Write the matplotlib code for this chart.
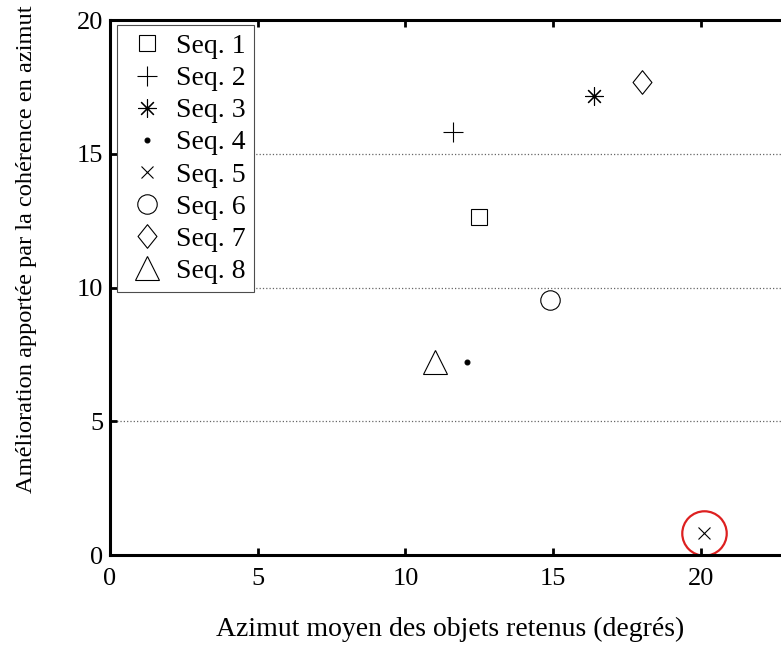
import matplotlib.pyplot as plt
from matplotlib.path import Path

plt.rcParams['font.family'] = ['Liberation Serif', 'DejaVu Serif']

# data
labels = ['Seq. 1', 'Seq. 2', 'Seq. 3', 'Seq. 4', 'Seq. 5', 'Seq. 6', 'Seq. 7', 'Seq. 8']
azimut = [12.5, 11.6, 16.4, 12.1, 20.1, 14.9, 18.0, 11.0]
gain = [12.65, 15.8, 17.15, 7.2, 0.82, 9.55, 17.7, 7.2]

# marker styles (MATLAB-like)
diamond = Path([(0, 1), (0.8, 0), (0, -1), (-0.8, 0), (0, 1)],
               [Path.MOVETO, Path.LINETO, Path.LINETO, Path.LINETO, Path.CLOSEPOLY])
markers = ['s', '+', (8, 2, 0), 'o', 'x', 'o', diamond, '^']
sizes = [11.5, 14, 13, 3.5, 9, 14, 17, 17]

fig = plt.figure(figsize=(7.81, 6.48), dpi=100)
ax = fig.add_axes([0.1408, 0.1435, 0.870, 0.8256])

for lab, x, y, m, s in zip(labels, azimut, gain, markers, sizes):
    filled = lab == 'Seq. 4'
    ax.plot(x, y, linestyle='none', marker=m, markersize=s,
            markerfacecolor='black' if filled else 'none',
            markeredgecolor='black', markeredgewidth=0.8, label=lab)

# red circle highlighting Seq. 5
ax.plot(azimut[4], gain[4], linestyle='none', marker='o', markersize=32,
        markerfacecolor='none', markeredgecolor='#dd2020', markeredgewidth=1.6)

ax.set_xlim(0, 23)
ax.set_ylim(0, 20)
ax.set_xticks([0, 5, 10, 15, 20])
ax.set_yticks([0, 5, 10, 15, 20])
ax.tick_params(direction='in', length=5, width=2, labelsize=19, top=True, right=True)
ax.tick_params(axis='x', pad=9)
ax.tick_params(axis='y', pad=5)
for sp in ax.spines.values():
    sp.set_linewidth(2.2)

ax.yaxis.grid(True, linestyle=':', color='0.4', linewidth=0.9)
ax.set_axisbelow(True)

ax.set_xlabel('Azimut moyen des objets retenus (degrés)', fontsize=20, labelpad=20)
ax.set_ylabel('Amélioration apportée par la cohérence en azimut', fontsize=17.6)
ax.yaxis.set_label_coords(-0.108, 0.572)

leg = ax.legend(loc='upper left', bbox_to_anchor=(0.01, 0.99), fontsize=20,
                frameon=True, fancybox=False, edgecolor='0.3', framealpha=1,
                handlelength=1.6, handletextpad=0.25, labelspacing=0.24,
                borderpad=0.3, borderaxespad=0)
leg.get_frame().set_linewidth(0.8)

plt.savefig('out.png', dpi=100)
